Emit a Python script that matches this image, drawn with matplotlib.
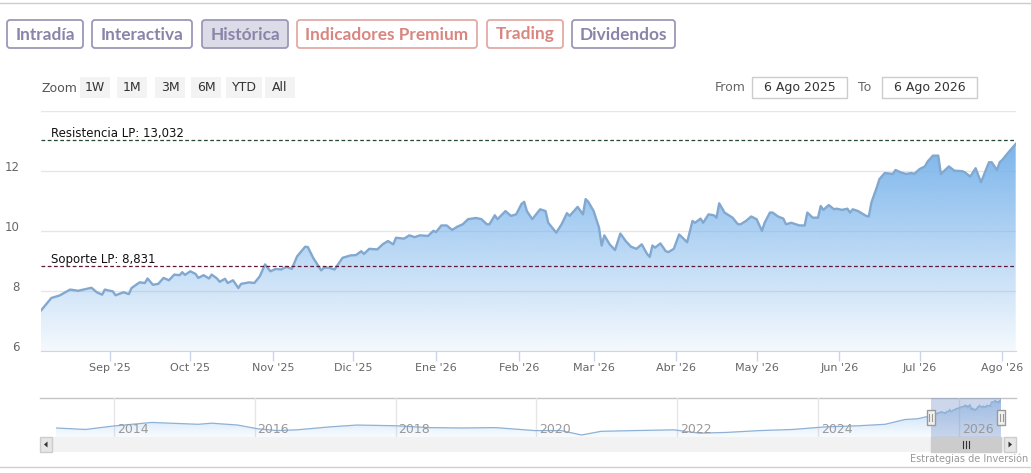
import matplotlib
matplotlib.use('Agg')
import matplotlib.pyplot as plt
import matplotlib.dates as mdates
import matplotlib.transforms as mtransforms
from matplotlib.patches import FancyBboxPatch, Rectangle, PathPatch, Polygon
from matplotlib.colors import to_rgb
import numpy as np
import pandas as pd

# daily closes shown in the main chart (6 Ago 2025 - 6 Ago 2026)
dates = [
    '2025-08-06', '2025-08-10', '2025-08-13', '2025-08-17', '2025-08-20', '2025-08-22',
    '2025-08-25', '2025-08-27', '2025-08-29', '2025-08-30', '2025-09-02', '2025-09-03',
    '2025-09-06', '2025-09-08', '2025-09-09', '2025-09-12', '2025-09-14', '2025-09-15',
    '2025-09-17', '2025-09-19', '2025-09-21', '2025-09-23', '2025-09-25', '2025-09-27',
    '2025-09-28', '2025-09-29', '2025-10-01', '2025-10-03', '2025-10-04', '2025-10-06',
    '2025-10-08', '2025-10-09', '2025-10-11', '2025-10-12', '2025-10-14', '2025-10-15',
    '2025-10-17', '2025-10-19', '2025-10-20', '2025-10-23', '2025-10-25', '2025-10-27',
    '2025-10-29', '2025-10-31', '2025-11-02', '2025-11-04', '2025-11-06', '2025-11-08',
    '2025-11-10', '2025-11-13', '2025-11-14', '2025-11-16', '2025-11-19', '2025-11-20',
    '2025-11-22', '2025-11-24', '2025-11-27', '2025-11-30', '2025-12-02', '2025-12-04',
    '2025-12-05', '2025-12-07', '2025-12-10', '2025-12-12', '2025-12-14', '2025-12-16',
    '2025-12-17', '2025-12-20', '2025-12-22', '2025-12-24', '2025-12-26', '2025-12-29',
    '2025-12-31', '2026-01-01', '2026-01-03', '2026-01-05', '2026-01-07', '2026-01-09',
    '2026-01-11', '2026-01-13', '2026-01-16', '2026-01-18', '2026-01-20', '2026-01-21',
    '2026-01-23', '2026-01-24', '2026-01-27', '2026-01-29', '2026-01-31', '2026-02-02',
    '2026-02-03', '2026-02-04', '2026-02-06', '2026-02-09', '2026-02-11', '2026-02-12',
    '2026-02-15', '2026-02-17', '2026-02-19', '2026-02-20', '2026-02-23', '2026-02-25',
    '2026-02-26', '2026-02-27', '2026-03-01', '2026-03-03', '2026-03-04', '2026-03-05',
    '2026-03-07', '2026-03-09', '2026-03-11', '2026-03-13', '2026-03-15', '2026-03-17',
    '2026-03-19', '2026-03-21', '2026-03-22', '2026-03-23', '2026-03-24', '2026-03-26',
    '2026-03-28', '2026-03-29', '2026-03-31', '2026-04-02', '2026-04-04', '2026-04-05',
    '2026-04-07', '2026-04-08', '2026-04-10', '2026-04-11', '2026-04-13', '2026-04-15',
    '2026-04-16', '2026-04-17', '2026-04-19', '2026-04-22', '2026-04-24', '2026-04-25',
    '2026-04-27', '2026-04-29', '2026-05-01', '2026-05-03', '2026-05-04', '2026-05-06',
    '2026-05-07', '2026-05-09', '2026-05-11', '2026-05-12', '2026-05-14', '2026-05-17',
    '2026-05-19', '2026-05-20', '2026-05-22', '2026-05-24', '2026-05-25', '2026-05-26',
    '2026-05-28', '2026-05-30', '2026-05-31', '2026-06-02', '2026-06-04', '2026-06-05',
    '2026-06-06', '2026-06-08', '2026-06-11', '2026-06-12', '2026-06-13', '2026-06-15',
    '2026-06-16', '2026-06-18', '2026-06-21', '2026-06-22', '2026-06-24', '2026-06-26',
    '2026-06-28', '2026-06-29', '2026-07-01', '2026-07-03', '2026-07-04', '2026-07-06',
    '2026-07-08', '2026-07-09', '2026-07-12', '2026-07-14', '2026-07-17', '2026-07-18',
    '2026-07-20', '2026-07-22', '2026-07-24', '2026-07-27', '2026-07-28', '2026-07-30',
    '2026-07-31', '2026-08-01', '2026-08-03', '2026-08-06',
]
prices = [
    7.33, 7.76, 7.84, 8.04, 8.00, 8.04,
    8.10, 7.95, 7.87, 8.04, 7.98, 7.85,
    7.95, 7.89, 8.09, 8.28, 8.26, 8.41,
    8.20, 8.23, 8.43, 8.35, 8.54, 8.52,
    8.62, 8.53, 8.65, 8.56, 8.43, 8.52,
    8.41, 8.54, 8.41, 8.30, 8.40, 8.26,
    8.35, 8.09, 8.23, 8.28, 8.26, 8.48,
    8.88, 8.65, 8.73, 8.71, 8.80, 8.73,
    9.15, 9.47, 9.46, 9.10, 8.68, 8.77,
    8.77, 8.71, 9.10, 9.18, 9.19, 9.32,
    9.23, 9.40, 9.38, 9.55, 9.66, 9.55,
    9.77, 9.74, 9.85, 9.79, 9.85, 9.83,
    10.00, 9.96, 10.18, 10.18, 10.03, 10.14,
    10.22, 10.39, 10.43, 10.39, 10.22, 10.22,
    10.52, 10.39, 10.66, 10.50, 10.55, 10.90,
    10.97, 10.66, 10.39, 10.72, 10.66, 10.27,
    9.94, 10.22, 10.59, 10.50, 10.80, 10.55,
    11.06, 10.97, 10.66, 10.11, 9.51, 9.85,
    9.55, 9.36, 9.91, 9.66, 9.47, 9.40,
    9.55, 9.23, 9.13, 9.51, 9.44, 9.58,
    9.32, 9.29, 9.40, 9.88, 9.71, 9.62,
    10.33, 10.27, 10.41, 10.27, 10.55, 10.52,
    10.44, 10.92, 10.61, 10.44, 10.22, 10.22,
    10.33, 10.48, 10.39, 10.00, 10.27, 10.61,
    10.61, 10.48, 10.41, 10.22, 10.27, 10.18,
    10.18, 10.61, 10.44, 10.44, 10.83, 10.70,
    10.86, 10.72, 10.74, 10.70, 10.74, 10.61,
    10.72, 10.66, 10.50, 10.48, 10.95, 11.45,
    11.73, 11.93, 11.90, 12.03, 11.95, 11.90,
    11.93, 11.90, 12.06, 12.15, 12.31, 12.51,
    12.51, 11.90, 12.15, 12.01, 11.99, 11.95,
    11.81, 12.09, 11.62, 12.29, 12.29, 12.03,
    12.29, 12.37, 12.59, 12.90,
]

# long history for the navigator strip (before the main window)
hist_dates = [
    '2013-03-07', '2013-08-07', '2013-12-24', '2014-07-16', '2014-10-27', '2015-03-15',
    '2015-05-22', '2015-10-05', '2016-01-15', '2016-04-27', '2016-08-07', '2017-01-26',
    '2017-06-14', '2018-01-05', '2018-06-25', '2018-12-14', '2019-06-03', '2019-12-24',
    '2020-05-08', '2020-08-22', '2020-12-02', '2021-05-23', '2021-12-13', '2022-04-27',
    '2022-09-13', '2023-03-05', '2023-08-22', '2024-02-06', '2024-07-27', '2024-12-13',
    '2025-03-26', '2025-05-30',
]
hist_prices = [
    3.23, 2.73, 3.85, 5.09, 4.84, 4.47,
    4.84, 4.22, 2.98, 2.36, 2.61, 3.60,
    4.22, 3.97, 3.35, 3.23, 3.35, 2.36,
    2.36, 0.87, 2.11, 2.36, 2.61, 1.49,
    1.74, 2.36, 2.73, 3.60, 3.97, 4.47,
    6.08, 6.33,
]

resistance = 13.032
support = 8.831

month_names = ['Sep', 'Oct', 'Nov', 'Dic', 'Ene', 'Feb', 'Mar', 'Abr', 'May', 'Jun', 'Jul', 'Ago']
month_starts = pd.date_range('2025-09-01', '2026-08-01', freq='MS')
tab_labels = ['Intradía', 'Interactiva', 'Histórica', 'Indicadores Premium', 'Trading', 'Dividendos']
zoom_labels = ['1W', '1M', '3M', '6M', 'YTD', 'All']
nav_years = [2014, 2016, 2018, 2020, 2022, 2024, 2026]

W, H = 1031, 473
fig = plt.figure(figsize=(W / 100, H / 100), dpi=100)
fig.patch.set_facecolor('white')


def frame(x0, y0, x1, y1):
    return [x0 / W, 1 - y1 / H, (x1 - x0) / W, (y1 - y0) / H]


# pixel-space layer for the page furniture
ui = fig.add_axes([0, 0, 1, 1], zorder=0)
ui.set_xlim(0, W)
ui.set_ylim(H, 0)
ui.axis('off')

ui.plot([0, W], [3, 3], color='#cccccc', lw=1)
ui.plot([0, W], [467, 467], color='#d0d0d0', lw=1)

# tabs
tab_x = [(7, 83), (92, 192), (202, 288), (297, 477), (487, 563), (572, 675)]
purple, red = '#8a84a9', '#d98680'
tab_col = [purple, purple, purple, red, red, purple]
tab_border = ['#9d98b8', '#9d98b8', '#9d98b8', '#e3aaa6', '#e3aaa6', '#9d98b8']
for lab, (x0, x1), c, b in zip(tab_labels, tab_x, tab_col, tab_border):
    fc = '#dcdbe8' if lab == 'Histórica' else 'white'
    ui.add_patch(FancyBboxPatch((x0, 20), x1 - x0, 28, boxstyle='round,pad=0,rounding_size=3',
                                fc=fc, ec=b, lw=1.3))
    ui.text((x0 + x1) / 2, 34.5, lab, ha='center', va='center', color=c,
            fontsize=12.4, fontweight='bold', family=['Lato', 'DejaVu Sans'])

# range selector
narrow = ['Liberation Sans Narrow', 'DejaVu Sans']
ui.text(41, 88, 'Zoom', ha='left', va='center', color='#555555', fontsize=9, family=narrow)
zoom_x = [(80, 110), (117, 147), (155, 185), (191, 221), (226, 262), (265, 295)]
for lab, (x0, x1) in zip(zoom_labels, zoom_x):
    ui.add_patch(Rectangle((x0, 77), x1 - x0, 21, fc='#f3f3f3', ec='none'))
    ui.text((x0 + x1) / 2, 87.5, lab, ha='center', va='center', color='#333333',
            fontsize=9, family=narrow)

ui.text(715, 87.5, 'From', ha='left', va='center', color='#666666', fontsize=9)
ui.text(858, 87.5, 'To', ha='left', va='center', color='#666666', fontsize=9)
for (x0, x1), lab in zip([(752, 847), (882, 977)], ['6 Ago 2025', '6 Ago 2026']):
    ui.add_patch(Rectangle((x0, 77), x1 - x0, 21, fc='white', ec='#cccccc', lw=1))
    ui.text((x0 + x1) / 2, 87.5, lab, ha='center', va='center', color='#333333', fontsize=9)

# main chart
d = mdates.date2num(pd.to_datetime(dates))
v = np.array(prices)

ax = fig.add_axes(frame(40.7, 111, 1015.7, 350.7), zorder=2)
ax.patch.set_alpha(0)

fill = ax.fill_between(d, v, 6, facecolor='none', edgecolor='none')
clip = PathPatch(fill.get_paths()[0], transform=ax.transData, facecolor='none', edgecolor='none')
ax.add_patch(clip)
n = 300
yy = np.linspace(14, 6, n)
alpha = np.clip(0.08 + 0.92 * (yy - 6) / (v.max() - 6), 0, 1)
rgba = np.zeros((n, 1, 4))
rgba[..., :3] = to_rgb('#7cb5ec')
rgba[:, 0, 3] = alpha
im = ax.imshow(rgba, extent=[d[0], d[-1], 6, 14], aspect='auto', origin='upper',
               interpolation='bilinear', zorder=1)
im.set_clip_path(clip)

ax.plot(d, v, color='#82a8d0', lw=1.7, zorder=3, solid_joinstyle='round')

ax.axhline(resistance, color='#25492e', lw=0.9, ls=(0, (3, 2)), zorder=4)
ax.axhline(support, color='#5e1737', lw=0.9, ls=(0, (3, 2)), zorder=4)
trans = mtransforms.blended_transform_factory(ax.transAxes, ax.transData)
ax.text(0.0105, resistance, 'Resistencia LP: ' + f'{resistance:.3f}'.replace('.', ','),
        transform=trans, ha='left', va='bottom', fontsize=8.5, color='#111111', zorder=5)
ax.text(0.0105, support, 'Soporte LP: ' + f'{support:.3f}'.replace('.', ','),
        transform=trans, ha='left', va='bottom', fontsize=8.5, color='#111111', zorder=5)

ax.set_xlim(d[0], d[-1])
ax.set_ylim(6, 14)
ax.set_yticks([6, 8, 10, 12, 14])
ax.set_yticklabels(['6', '8', '10', '12', ''])
ax.set_xticks(mdates.date2num(month_starts))
ax.set_xticklabels([f"{m} '{str(t.year)[2:]}" for m, t in zip(month_names, month_starts)])
ax.yaxis.grid(True, color='#e6e6e6', lw=1)
ax.set_axisbelow(True)
for s in ['top', 'right', 'left']:
    ax.spines[s].set_visible(False)
ax.spines['bottom'].set_color('#ccd6eb')
ax.tick_params(axis='x', length=7, width=1, color='#ccd6eb', labelsize=8, labelcolor='#666666', pad=2)
ax.tick_params(axis='y', length=0, labelsize=8.5, labelcolor='#666666', pad=15)
for lab in ax.get_yticklabels():
    lab.set_verticalalignment('baseline')

# navigator
hd = mdates.date2num(pd.to_datetime(hist_dates))
all_d = np.concatenate([hd, d])
all_v = np.concatenate([np.array(hist_prices), v])

ui.plot([40, 1016], [398, 398], color='#c4c4c4', lw=1)
nav = fig.add_axes(frame(56, 398, 1001, 437), zorder=1)
nav.patch.set_alpha(0)
nav.set_xlim(all_d[0], all_d[-1])
nav.set_ylim(0.2, 13.3)
nav.axis('off')

nfill = nav.fill_between(all_d, all_v, 0.2, facecolor='none', edgecolor='none')
nclip = PathPatch(nfill.get_paths()[0], transform=nav.transData, facecolor='none', edgecolor='none')
nav.add_patch(nclip)
ny = np.linspace(13.3, 0.2, n)
nrgba = np.zeros((n, 1, 4))
nrgba[..., :3] = to_rgb('#7cb5ec')
nrgba[:, 0, 3] = np.clip(0.05 + 0.5 * (ny - 0.2) / 13.1, 0, 1)
nim = nav.imshow(nrgba, extent=[all_d[0], all_d[-1], 0.2, 13.3], aspect='auto', origin='upper',
                 interpolation='bilinear', zorder=1)
nim.set_clip_path(nclip)
nav.plot(all_d, all_v, color='#8fb1d6', lw=0.9, zorder=3)
nav.set_xlim(all_d[0], all_d[-1])
nav.set_ylim(0.2, 13.3)

ntrans = mtransforms.blended_transform_factory(nav.transData, nav.transAxes)
for yr in nav_years:
    yd = mdates.date2num(pd.Timestamp(f'{yr}-01-01'))
    nav.plot([yd, yd], [0, 1], transform=ntrans, color='#e6e6e6', lw=1, zorder=0)
    nav.annotate(str(yr), (yd, 0.18), xycoords=ntrans, xytext=(2, 0), textcoords='offset points',
                 ha='left', va='center', fontsize=9, color='#999999', family=narrow, zorder=4)

nav.axvspan(d[0], d[-1], color='#6685c2', alpha=0.32, zorder=2, lw=0)

px0 = nav.transData.transform((d[0], 1))[0]
px1 = nav.transData.transform((d[-1], 1))[0]

# scrollbar
ui.add_patch(Rectangle((40, 437), 976, 15, fc='#f2f2f2', ec='none'))
for bx, sgn in [(40, -1), (1004, 1)]:
    ui.add_patch(Rectangle((bx, 437), 12, 15, fc='#e6e6e6', ec='#cccccc', lw=1))
    cx = bx + 6
    ui.add_patch(Polygon([(cx + 2 * sgn, 444.5), (cx - 1.5 * sgn, 441.5), (cx - 1.5 * sgn, 447.5)],
                         closed=True, fc='#333333', ec='none'))
ui.add_patch(Rectangle((px0, 437), px1 - px0, 15, fc='#cccccc', ec='#cccccc', lw=1))
mid = (px0 + px1) / 2
for off in (-3, 0, 3):
    ui.plot([mid + off, mid + off], [441, 448], color='#333333', lw=0.8)

# navigator handles
hl = fig.add_axes([0, 0, 1, 1], zorder=3)
hl.set_xlim(0, W)
hl.set_ylim(H, 0)
hl.axis('off')
for px in (px0, px1):
    hl.add_patch(Rectangle((px - 4, 410), 8, 15, fc='#f2f2f2', ec='#999999', lw=1))
    for off in (-1.5, 1.5):
        hl.plot([px + off, px + off], [414, 421], color='#999999', lw=0.8)

ui.text(1028, 459, 'Estrategias de Inversión', ha='right', va='center', fontsize=7,
        color='#999999', family=narrow)

fig.savefig('out.png', dpi=100)
